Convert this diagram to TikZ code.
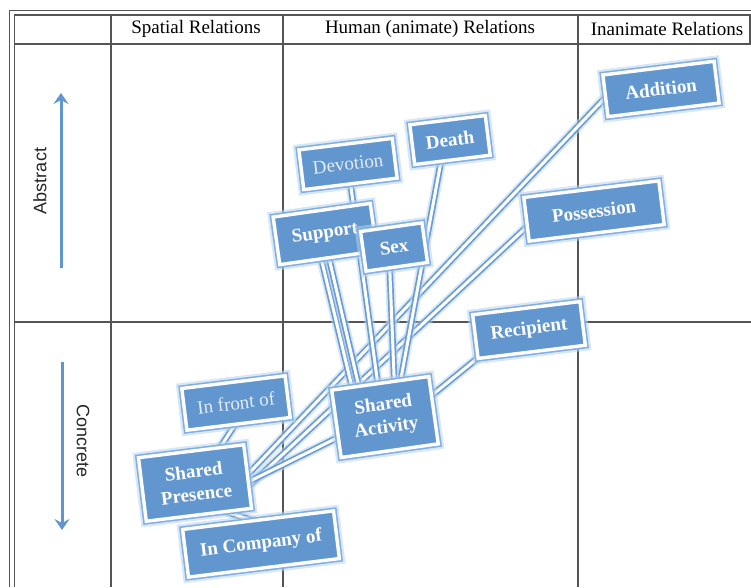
\documentclass[tikz,border=0pt]{standalone}
\usepackage{fontspec}
\setmainfont{Liberation Serif}
\setsansfont{Liberation Sans}
\usetikzlibrary{arrows.meta,calc}
\definecolor{boxblue}{RGB}{98,150,206}
\definecolor{edgeblue}{RGB}{130,175,225}
\definecolor{glowblue}{RGB}{185,212,240}
\definecolor{linkblue}{RGB}{105,155,212}
\definecolor{gridgray}{RGB}{85,85,85}
\definecolor{arrowblue}{RGB}{95,150,210}
\pgfdeclarelayer{grid}
\pgfdeclarelayer{links}
\pgfsetlayers{grid,links,main}
\begin{document}
\begin{tikzpicture}[x=1pt,y=-1pt,
 gridline/.style={draw=gridgray, line width=1.1pt},
 headtext/.style={font=\fontsize{19}{22}\selectfont, text=black, inner sep=0pt},
 sidetext/.style={font=\sffamily\fontsize{18}{20}\selectfont, text=black!85, inner sep=0pt},
 sidearrow/.style={draw=arrowblue, line width=3pt, -{Stealth[length=11pt,width=15pt,inset=4pt]}},
 concept/.style={rectangle, fill=boxblue, draw=white, line width=3.4pt, text=white,
   font=\bfseries\fontsize{19}{23}\selectfont, align=center, inner sep=2pt,
   preaction={draw=glowblue, line width=11pt, opacity=0.55},
   preaction={draw=edgeblue, line width=6.6pt}},
 faint/.style={concept, font=\fontsize{19}{23}\selectfont, text=white!82!boxblue},
 link/.style={draw=linkblue, line width=1.7pt, double=white, double distance=3pt,
   preaction={draw=glowblue, line width=10pt, opacity=0.55}},
]
\useasboundingbox (0,0) rectangle (751,587);

% table grid
\begin{pgfonlayer}{grid}
\fill[white] (0,0) rectangle (751,587);
\draw[gridline] (9.5,587) -- (9.5,10.5) -- (751,10.5);
\draw[gridline] (14.5,587) -- (14.5,15) -- (751,15);
\draw[gridline] (14.5,44) -- (751,44);
\draw[gridline] (14.5,322) -- (751,322);
\foreach \x in {111,283,578} \draw[gridline] (\x,15) -- (\x,587);
\draw[gridline] (750,15) -- (750,44);
\end{pgfonlayer}

% headers
\node[headtext] (h1) at (196,28.5) {Spatial Relations};
\node[headtext] (h2) at (430,28.5) {Human (animate) Relations};
\node[headtext] (h3) at (667,28.5) {Inanimate Relations};

% side labels and arrows
\node[sidetext, rotate=90] (abstract) at (40,181) {Abstract};
\node[sidetext, rotate=-90] (concrete) at (83,441) {Concrete};
\coordinate (absbot) at (61,268);
\coordinate (abstop) at (61,93);
\coordinate (contop) at (62,362);
\coordinate (conbot) at (62,530);
\draw[sidearrow] (absbot) -- (abstop);
\draw[sidearrow] (contop) -- (conbot);

% concept boxes
\node[concept, rotate=7, minimum width=112, minimum height=42] (add) at (661,89) {Addition};
\node[concept, rotate=7, minimum width=76, minimum height=40] (death) at (450,140) {Death};
\node[faint, rotate=7, minimum width=94, minimum height=40] (dev) at (348,164) {Devotion};
\node[concept, rotate=7, minimum width=136, minimum height=44] (poss) at (594,211) {Possession};
\node[concept, rotate=8, minimum width=98, minimum height=48] (sup) at (325,234) {Support};
\node[concept, rotate=8, minimum width=62, minimum height=40] (sex) at (394,247) {Sex};
\node[concept, rotate=7, minimum width=108, minimum height=44] (rec) at (529,330) {Recipient};
\node[faint, rotate=7, minimum width=104, minimum height=42] (front) at (236,403) {In front of};
\node[concept, rotate=8, minimum width=98, minimum height=68] (sa) at (385,417) {Shared\\Activity};
\node[concept, rotate=7, minimum width=106, minimum height=64] (sp) at (195,483) {Shared\\Presence};
\node[concept, rotate=7, minimum width=152, minimum height=48] (comp) at (261,544) {In Company of};

% connectors
\begin{pgfonlayer}{links}
\draw[link] ($(sp)+(39.5,5.5)$) -- ($(add)+(-40.5,-7.5)$);
\draw[link] ($(sp)+(42,14)$) -- ($(poss)+(-47,-3)$);
\draw[link] ($(sp)+(33,9)$) -- ($(sa)+(-28,11)$);
\draw[link] ($(sp)+(15,-20)$) -- ($(front)+(4,14)$);
\draw[link] ($(sp)+(20,25)$) -- ($(comp)+(14,-16)$);
\draw[link] ($(sa)+(35,-12)$) -- ($(rec)+(-39,18)$);
\draw[link] ($(sup)+(-7,11)$) -- ($(sa)+(-30,-17)$);
\draw[link] ($(sup)+(1,11)$) -- ($(sa)+(-23,-17)$);
\draw[link] ($(dev)+(2,16)$) -- ($(sa)+(-5,-17)$);
\draw[link] ($(sex)+(-5,3)$) -- ($(sa)+(10,-17)$);
\draw[link] ($(death)+(-6,5)$) -- ($(sa)+(12,-17)$);
\end{pgfonlayer}
\end{tikzpicture}
\end{document}
